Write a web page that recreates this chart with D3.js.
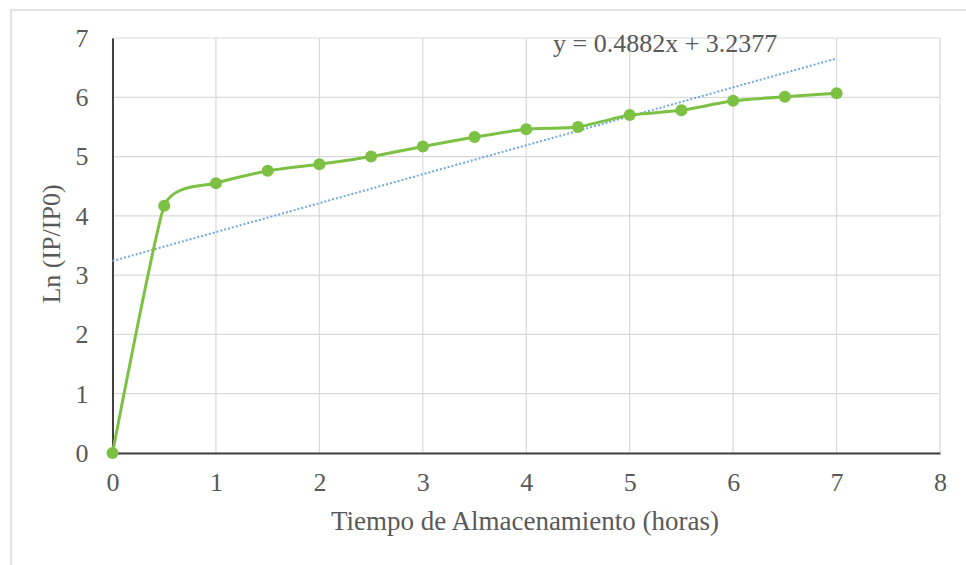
<!DOCTYPE html>
<html>
<head>
<meta charset="utf-8">
<script src="https://cdn.jsdelivr.net/npm/d3@7"></script>
<style>
  body { margin: 0; background: #fff; }
  text { font-family: "Liberation Serif", "DejaVu Serif", serif; }
</style>
</head>
<body>
<div id="chart"></div>
<script>
// datos
var horas = [0, 0.5, 1, 1.5, 2, 2.5, 3, 3.5, 4, 4.5, 5, 5.5, 6, 6.5, 7];
var lnIP = [0, 4.17, 4.55, 4.76, 4.87, 5.0, 5.17, 5.33, 5.46, 5.50, 5.70, 5.78, 5.94, 6.01, 6.07];
var xTicks = [0, 1, 2, 3, 4, 5, 6, 7, 8];
var yTicks = [0, 1, 2, 3, 4, 5, 6, 7];
var pendiente = 0.4882, intercepto = 3.2377;
var ecuacion = 'y = 0.4882x + 3.2377';

var w = 966, h = 565;
var mLeft = 112.5, mRight = 940, mTop = 38, mBottom = 453;

var svg = d3.select('#chart').append('svg')
    .attr('width', w)
    .attr('height', h);

// marco del grafico
svg.append('rect')
    .attr('x', 11).attr('y', 10)
    .attr('width', 970).attr('height', 570)
    .attr('fill', '#fff')
    .attr('stroke', '#d9d9d9')
    .attr('stroke-width', 1.5);

var xscale = d3.scaleLinear().domain([0, 8]).range([mLeft, mRight]);
var yscale = d3.scaleLinear().domain([0, 7]).range([mBottom, mTop]);

// rejilla
var grid = svg.append('g');
grid.selectAll('.gx').data(xTicks).enter().append('line')
    .attr('x1', function (d) { return xscale(d); })
    .attr('x2', function (d) { return xscale(d); })
    .attr('y1', mTop).attr('y2', mBottom)
    .attr('stroke', '#d9d9d9').attr('stroke-width', 1.2);
grid.selectAll('.gy').data(yTicks).enter().append('line')
    .attr('y1', function (d) { return yscale(d); })
    .attr('y2', function (d) { return yscale(d); })
    .attr('x1', mLeft).attr('x2', mRight)
    .attr('stroke', '#d9d9d9').attr('stroke-width', 1.2);

// ejes
var xAxis = d3.axisBottom(xscale).tickValues(xTicks).tickSize(0).tickPadding(30)
    .tickFormat(d3.format('d'));
var yAxis = d3.axisLeft(yscale).tickValues(yTicks).tickSize(0).tickPadding(24)
    .tickFormat(d3.format('d'));

var xg = svg.append('g')
    .attr('transform', 'translate(0,' + mBottom + ')')
    .call(xAxis);
var yg = svg.append('g')
    .attr('transform', 'translate(' + mLeft + ',0)')
    .call(yAxis);

[xg, yg].forEach(function (g) {
    g.select('.domain').attr('stroke', '#404040').attr('stroke-width', 2);
    g.selectAll('text')
        .attr('fill', '#595959')
        .attr('font-size', '26px')
        .attr('font-family', '"Liberation Serif", serif');
});
xg.selectAll('text').attr('dy', '0.32em');

// linea de tendencia
var trend = d3.line()
    .x(function (d) { return xscale(d); })
    .y(function (d) { return yscale(pendiente * d + intercepto); });
svg.append('path')
    .attr('d', trend([0, 7]))
    .attr('fill', 'none')
    .attr('stroke', '#6fa8dc')
    .attr('stroke-width', 2)
    .attr('stroke-dasharray', '2,2');

// serie
var datos = horas.map(function (d, i) { return {x: d, y: lnIP[i]}; });
var line = d3.line()
    .x(function (d) { return xscale(d.x); })
    .y(function (d) { return yscale(d.y); })
    .curve(d3.curveCardinal.tension(0.5));

svg.append('path')
    .attr('d', line(datos))
    .attr('fill', 'none')
    .attr('stroke', '#7cc143')
    .attr('stroke-width', 3);

svg.append('g').selectAll('circle')
    .data(datos)
    .enter()
    .append('circle')
    .attr('cx', function (d) { return xscale(d.x); })
    .attr('cy', function (d) { return yscale(d.y); })
    .attr('r', 6)
    .attr('fill', '#7cc143');

// textos
svg.append('text')
    .text(ecuacion)
    .attr('x', 553)
    .attr('y', 52)
    .attr('fill', '#595959')
    .attr('font-size', '26px');

svg.append('text')
    .text('Tiempo de Almacenamiento (horas)')
    .attr('x', 525)
    .attr('y', 530)
    .attr('text-anchor', 'middle')
    .attr('fill', '#595959')
    .attr('font-size', '27px');

svg.append('text')
    .text('Ln (IP/IP0)')
    .attr('transform', 'translate(60,' + 244 + ') rotate(-90)')
    .attr('text-anchor', 'middle')
    .attr('fill', '#595959')
    .attr('font-size', '26px');
</script>
</body>
</html>
